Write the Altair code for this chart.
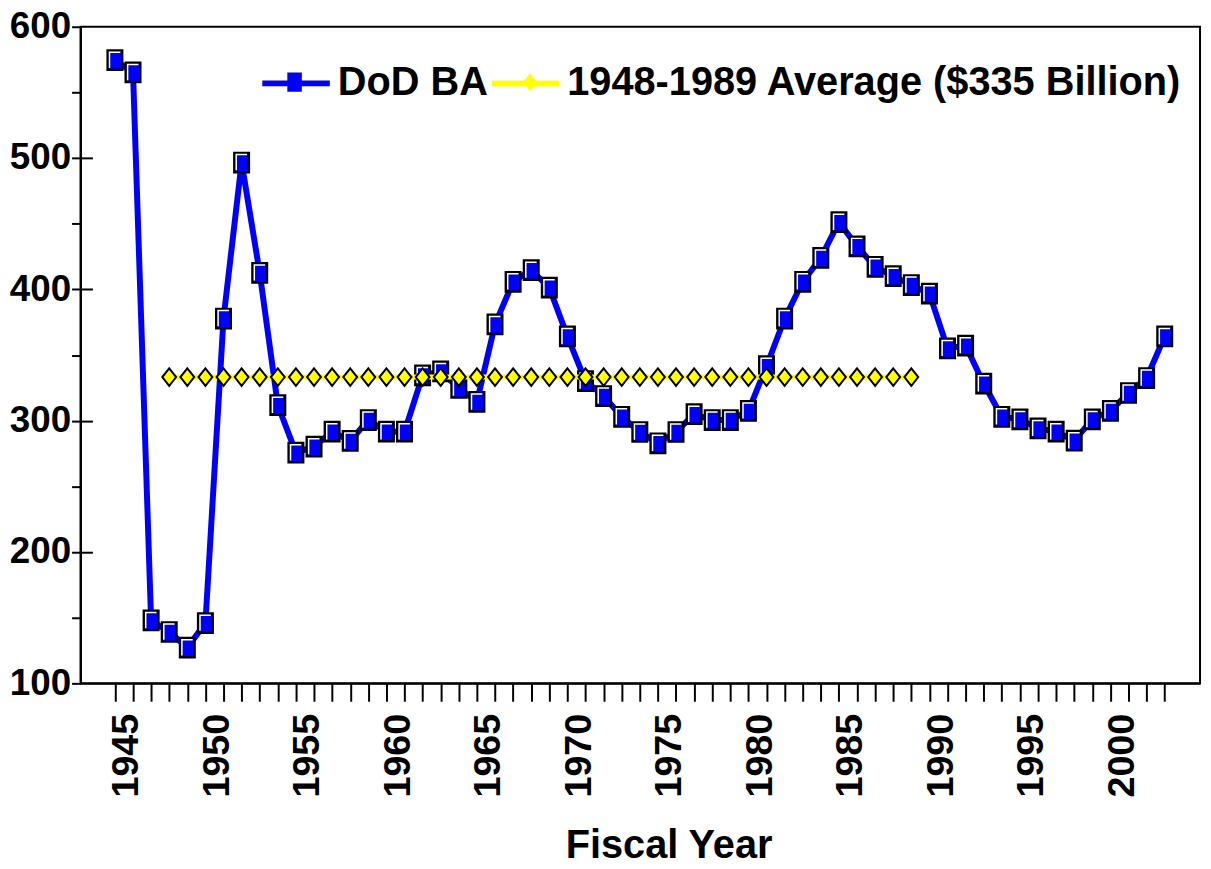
import altair as alt
import pandas as pd

# ---------------- data ----------------
years = list(range(1945, 2004))
dod_ba = [574.5, 565.2, 147.9, 139.1, 127.2, 145.9, 377.8, 496.6, 412.6, 311.8,
          275.7, 280.3, 291.6, 284.6, 300.5, 291.6, 291.6, 334.5, 337.5, 324.9,
          314.3, 373.3, 405.8, 414.7, 401.3, 364.2, 330.2, 318.8, 303.0, 291.4,
          282.8, 291.4, 305.0, 300.5, 300.5, 307.5, 341.5, 377.8, 405.8, 424.0,
          451.2, 432.8, 417.2, 410.1, 403.3, 396.8, 355.1, 357.2, 328.2, 303.0,
          301.0, 294.2, 291.6, 284.8, 301.0, 307.5, 321.1, 332.5, 364.2]
avg_years = list(range(1948, 1990))
avg_level = 333.2

series_names = ["DoD BA", "1948-1989 Average ($335 Billion)"]
series_colors = ["#0000FF", "#FFFF00"]
# marker legend keys (zero-width mark keeps the marker legend apart from the line legend)
marker_keys = [s + "\u200b" for s in series_names]

x_ticks = list(range(1945, 2004))
y_ticks = list(range(100, 601, 50))
y_major_inner = [200, 300, 400, 500]

df_dod = pd.DataFrame({"year": years, "value": dod_ba,
                       "series": series_names[0], "marker": marker_keys[0]})
df_avg = pd.DataFrame({"year": avg_years, "value": [avg_level] * len(avg_years),
                       "series": series_names[1], "marker": marker_keys[1]})

# ---------------- styling ----------------
FONT = "Liberation Sans"
SYM = 4624  # 68 px symbol box
square_path = "M-1,0M1,0M-0.215,-0.285H0.215V0.285H-0.215Z"
diamond_path = "M-1,0M1,0M0,-0.26L0.205,0L0,0.26L-0.205,0Z"
highlight_path = "M-0.16,0.23V-0.235H0.16"

x_scale = alt.Scale(domain=[1943.1, 2004.95], nice=False, zero=False)
y_scale = alt.Scale(domain=[100, 600], nice=False, zero=False)

x_enc = alt.X("year:Q", scale=x_scale,
              axis=alt.Axis(values=x_ticks, format="d", grid=False,
                            labelExpr="datum.value % 5 == 0 ? datum.label : ''",
                            labelAngle=-90, labelFontSize=38, labelPadding=12,
                            labelOffset=12, labelBaseline="middle",
                            labelOverlap=False, labelFlush=False,
                            tickSize=18, title="Fiscal Year", titleFontSize=40,
                            titleAlign="center", titleBaseline="alphabetic",
                            titleX=592, titleY=175))

y_main = alt.Y("value:Q", scale=y_scale,
               axis=alt.Axis(values=y_ticks, format="d", grid=False,
                             labelExpr="datum.value % 100 == 0 ? datum.label : ''",
                             labelFontSize=37, labelPadding=1, tickSize=9,
                             labelOverlap=False, labelFlush=False, title=None))
y_inner = alt.Y("value:Q", scale=y_scale,
                axis=alt.Axis(values=y_major_inner, orient="left", offset=-12, grid=False,
                              tickSize=12, labels=False, domain=False, title=None))
y_none = alt.Y("value:Q", scale=y_scale, axis=None)

legend_common = dict(title=None, orient="none", legendX=180, legendY=20,
                     direction="horizontal", symbolSize=SYM,
                     labelFontSize=40, labelFont=FONT, labelFontWeight="bold",
                     labelColor="black", labelLimit=1000,
                     columnPadding=-20, padding=0, labelBaseline="middle")

line_legend = alt.Legend(symbolType="stroke", symbolStrokeWidth=6, labelOffset=5,
                         zindex=1, **legend_common)
point_legend = alt.Legend(symbolStrokeColor="black", symbolStrokeWidth=2.5,
                          labelExpr="' '", labelOffset=166, zindex=2, **legend_common)

stroke_enc = alt.Stroke("series:N", scale=alt.Scale(domain=series_names, range=series_colors),
                        legend=line_legend)
fill_enc = alt.Fill("marker:N", scale=alt.Scale(domain=marker_keys, range=series_colors),
                    legend=point_legend)
shape_enc = alt.Shape("marker:N", scale=alt.Scale(domain=marker_keys,
                                                  range=[square_path, diamond_path]),
                      legend=point_legend)

dod_line = alt.Chart(df_dod).mark_line(strokeWidth=6, strokeJoin="round").encode(
    x=x_enc, y=y_main, stroke=stroke_enc)
dod_pts = alt.Chart(df_dod).mark_point(filled=True, stroke="black", strokeWidth=2.5,
                                       size=SYM, opacity=1).encode(
    x=x_enc, y=y_none, fill=fill_enc, shape=shape_enc)
dod_hi = alt.Chart(df_dod).mark_point(filled=False, stroke="white", strokeWidth=1.5,
                                      size=SYM, opacity=1).encode(
    x=x_enc, y=y_none, shape=alt.value(highlight_path))
avg_line = alt.Chart(df_avg).mark_line(strokeWidth=5).encode(
    x=x_enc, y=y_inner, stroke=stroke_enc)
avg_pts = alt.Chart(df_avg).mark_point(filled=True, stroke="black", strokeWidth=2,
                                       size=SYM, opacity=1).encode(
    x=x_enc, y=y_none, fill=fill_enc, shape=shape_enc)

chart = alt.layer(dod_line, dod_pts, dod_hi, avg_line, avg_pts).resolve_axis(
    y="independent").resolve_scale(y="shared").properties(
    width=1127, height=661,
    background="white",
    autosize=alt.AutoSizeParams(type="none"),
    padding={"left": 73, "top": 16, "right": 3, "bottom": 180},
).configure_view(stroke="black", strokeWidth=2).configure_axis(
    domainColor="black", domainWidth=2, tickColor="black", tickWidth=2,
    labelColor="black", titleColor="black", grid=False,
    labelFont=FONT, labelFontWeight="bold", titleFont=FONT, titleFontWeight="bold",
)

chart.save("out.html", embed_options={"renderer": "svg", "actions": False})
